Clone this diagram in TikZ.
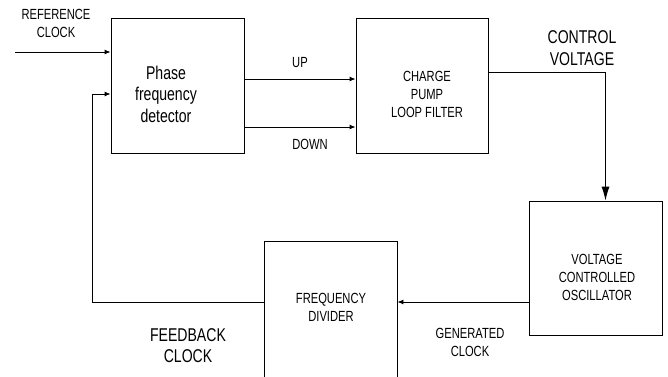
\documentclass[tikz,border=0pt]{standalone}
\usepackage{fontspec}
\setmainfont{Liberation Sans}[FakeStretch=0.76]
\usetikzlibrary{arrows.meta}

\begin{document}
\begin{tikzpicture}[x=1pt,y=-1pt,
  line width=0.9pt,
  block/.style={draw, line width=0.9pt, inner sep=0pt, minimum width=#1},
  small/.style={align=center, inner sep=0pt, font=\fontsize{14.7}{18}\selectfont},
  big/.style={align=center, inner sep=0pt, font=\fontsize{18.5}{21.5}\selectfont},
  arr/.style={-{Latex[length=6pt,width=5pt]}},
  bigarr/.style={-{Latex[length=14pt,width=8pt]}}
]
\useasboundingbox (0,0) rectangle (668,376);
\clip (0,0) rectangle (668,376);

% blocks
\node[block=133pt, minimum height=135pt] (pfd) at (177.5,85.5) {};
\node[block=132pt, minimum height=135pt] (cp)  at (422,85.5) {};
\node[block=133pt, minimum height=134pt] (vco) at (595.5,268) {};
\node[block=133pt, minimum height=170pt] (fd)  at (330.5,326) {};

% block texts
\node[big]   (pfdtxt) at (166,94)  {Phase\\frequency\\detector};
\node[small] (cptxt)  at (427,94)  {CHARGE\\PUMP\\LOOP FILTER};
\node[small] (vcotxt) at (597,277) {VOLTAGE\\CONTROLLED\\OSCILLATOR};
\node[small] (fdtxt)  at (331,307.5) {FREQUENCY\\DIVIDER};

% signal labels
\node[small] (reflbl) at (56,23)    {REFERENCE\\CLOCK};
\node[small] (uplbl)  at (300,63)   {UP};
\node[small] (dnlbl)  at (310,144)  {DOWN};
\node[big]   (cvlbl)  at (582,48)   {CONTROL\\VOLTAGE};
\node[small] (genlbl) at (470,342)  {GENERATED\\CLOCK};
\node[big]   (fblbl)  at (188,345.5) {FEEDBACK\\CLOCK};

% connectors
\coordinate (refin) at (15,52);
\draw[arr] (refin) -- (refin -| pfd.west);

\draw[arr] ([yshift=6.5pt]pfd.east) -- ([yshift=6.5pt]cp.west);
\draw[arr] ([yshift=-41.5pt]pfd.east) -- ([yshift=-41.5pt]cp.west);

\draw[bigarr] ([yshift=13.5pt]cp.east) -| ([xshift=10pt]vco.north);

\coordinate (gen) at ([yshift=-34pt]vco.west);
\draw[arr] (gen) -- (gen -| fd.east);

\coordinate (fbcorner) at (92,94);
\draw[arr] (gen -| fd.west) -| (fbcorner) -- (fbcorner -| pfd.west);
\end{tikzpicture}
\end{document}
